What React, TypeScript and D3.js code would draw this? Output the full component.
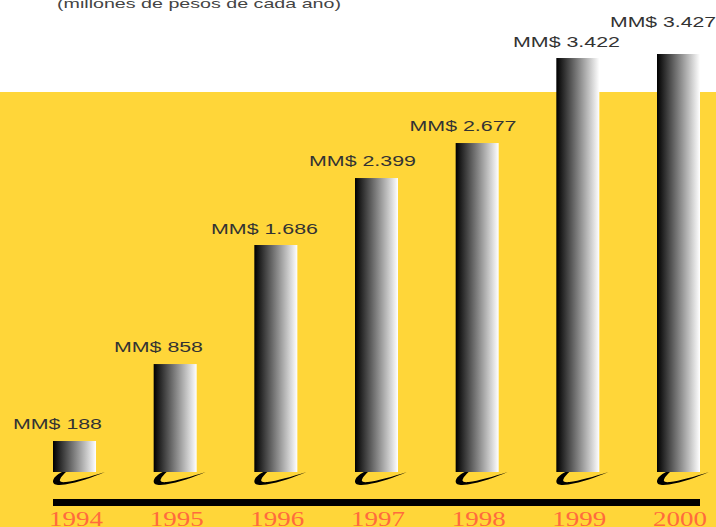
import React from "react";
import * as d3 from "d3";

const years = ["1994", "1995", "1996", "1997", "1998", "1999", "2000"];
const labels = ["MM$ 188", "MM$ 858", "MM$ 1.686", "MM$ 2.399", "MM$ 2.677", "MM$ 3.422", "MM$ 3.427"];
// Bar heights as drawn in the picture, expressed in the chart's units
const plotted = [254, 885, 1861, 2410, 2697, 3394, 3427];
const labelCentres = [57.5, 158.5, 264.5, 362.5, 463, 566.5, 663];
const labelBaselines = [429, 352, 234, 166, 131, 47, 27];
const labelWidths = [89, 89, 107, 107, 107, 107, 106];

const W = 716, H = 527;
const x = d3.scaleBand<string>().domain(years).range([53, 700]).paddingInner(0.5728).paddingOuter(0);
const y = d3.scaleLinear().domain([0, 3427]).range([472, 54]);
const swoosh = "M9 0 C4 2.5 0 6 0 9.5 C0 13 5 13.5 12 12.5 C25 10.5 40 5 52 0 C38 4.5 22 9 13 10 C8.5 10.5 6 9.5 7 7.5 C8 4.5 11 2 13 0 Z";

export default function App() {
  return (
    <svg width={W} height={H} viewBox={`0 0 ${W} ${H}`} style={{ position: "absolute", left: 0, top: 0, display: "block", background: "#fff" }}>
      <defs>
        <linearGradient id="barGrad" x1="0" x2="1" y1="0" y2="0">
          <stop offset="0" stopColor="#000" />
          <stop offset="1" stopColor="#fff" />
        </linearGradient>
      </defs>
      <rect x={0} y={92} width={W} height={H - 92} fill="#FFD639" />
      <text x={57} y={8} fontFamily="Liberation Sans" fontSize={13.5} fill="#444" textLength={284} lengthAdjust="spacingAndGlyphs">(millones de pesos de cada año)</text>
      {years.map((yr, i) => (
        <g key={yr}>
          <path d={swoosh} transform={`translate(${x(yr) as number},${y(0)})`} fill="#000" />
          <rect x={x(yr)} y={y(plotted[i])} width={x.bandwidth()} height={y(0) - y(plotted[i])} fill="url(#barGrad)" />
          <text x={labelCentres[i] - labelWidths[i] / 2} y={labelBaselines[i]} fontFamily="Liberation Sans" fontSize={14} fill="#333" textLength={labelWidths[i]} lengthAdjust="spacingAndGlyphs">{labels[i]}</text>
          <text x={(x(yr) as number) - 4} y={525.5} fontFamily="Liberation Serif" fontSize={20} fill="#FF6B3D" textLength={54} lengthAdjust="spacingAndGlyphs">{yr}</text>
        </g>
      ))}
      <rect x={53} y={499} width={647} height={7} fill="#000" />
    </svg>
  );
}
